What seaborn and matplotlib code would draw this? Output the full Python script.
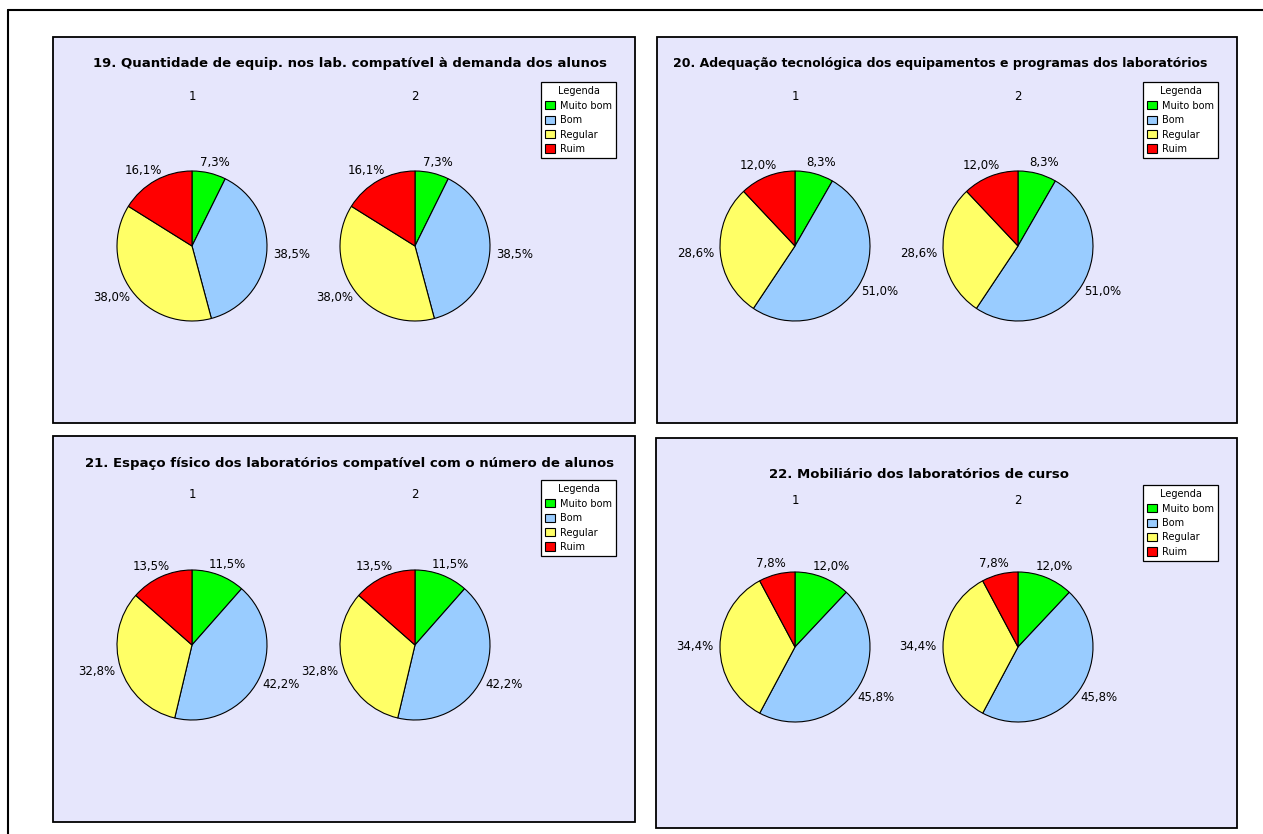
import numpy as np
import matplotlib
matplotlib.use("Agg")
import matplotlib.pyplot as plt
from matplotlib.patches import Rectangle, Patch
from matplotlib.lines import Line2D
import seaborn as sns

sns.set_style("white")
plt.rcParams['font.family'] = ['DejaVu Sans']
plt.rcParams['text.color'] = 'black'

categorias = ['Muito bom', 'Bom', 'Regular', 'Ruim']
cores = ['#00FF00', '#99CCFF', '#FFFF66', '#FF0000']
series = ['1', '2']

titulos = [
    '19. Quantidade de equip. nos lab. compatível à demanda dos alunos',
    '20. Adequação tecnológica dos equipamentos e programas dos laboratórios',
    '21. Espaço físico dos laboratórios compatível com o número de alunos',
    '22. Mobiliário dos laboratórios de curso',
]
q19 = [7.3, 38.5, 38.0, 16.1]
q20 = [8.3, 51.0, 28.6, 12.0]
q21 = [11.5, 42.2, 32.8, 13.5]
q22 = [12.0, 45.8, 34.4, 7.8]
valores = [q19, q20, q21, q22]

W, H = 1263, 834
fig = plt.figure(figsize=(W / 100, H / 100), dpi=100)
fig.patch.set_facecolor('white')


def fx(x):
    return x / W


def fy(y):
    return 1 - y / H


# outer frame (top and left lines)
fig.add_artist(Line2D([fx(8), fx(8)], [fy(9.5), 0], color='black', lw=1.5))
fig.add_artist(Line2D([fx(8), 1], [fy(9.5), fy(9.5)], color='black', lw=1.5))

# panel layout in pixels: box, title centre/y/size, series label y, pie y, legend top-left
paineis = [
    dict(box=(53, 37, 635, 423), tx=350, ty=64, ts=9.5, sy=97, py=246, pcx=(192, 415), leg=(541, 82)),
    dict(box=(657, 37, 1237, 423), tx=940, ty=64, ts=9.0, sy=97, py=246, pcx=(795, 1018), leg=(1143, 82)),
    dict(box=(53, 436, 635, 822), tx=350, ty=463, ts=9.5, sy=495, py=645, pcx=(192, 415), leg=(541, 480)),
    dict(box=(656, 438, 1237, 828), tx=919, ty=475, ts=9.5, sy=500, py=647, pcx=(795, 1018), leg=(1143, 485)),
]

R = 75  # pie radius in px
L = 1.25

for p, titulo, vals in zip(paineis, titulos, valores):
    x0, y0, x1, y1 = p['box']
    fig.add_artist(Rectangle((fx(x0), fy(y1)), fx(x1 - x0), (y1 - y0) / H,
                             facecolor='#E6E6FC', edgecolor='black', lw=1.3, zorder=0))
    fig.text(fx(p['tx']), fy(p['ty']), titulo, ha='center', va='center',
             fontsize=p['ts'], fontweight='bold', color='black')

    for s, cx in zip(series, p['pcx']):
        fig.text(fx(cx), fy(p['sy']), s, ha='center', va='center', fontsize=8.5, color='black')
        half = R * L
        ax = fig.add_axes([fx(cx - half), fy(p['py'] + half), 2 * half / W, 2 * half / H])
        wedges, _ = ax.pie(vals, colors=cores, startangle=90, counterclock=False,
                           wedgeprops=dict(edgecolor='black', linewidth=0.8))
        ax.set_xlim(-L, L)
        ax.set_ylim(-L, L)
        ax.set_facecolor('none')
        for w, v in zip(wedges, vals):
            ang = np.deg2rad((w.theta1 + w.theta2) / 2)
            c, sn = np.cos(ang), np.sin(ang)
            px = 1.06 * c + 0.27 * c
            py = 1.06 * sn + 0.09 * sn
            ax.text(px, py, f'{v:.1f}%'.replace('.', ','), ha='center', va='center',
                    fontsize=8.5, color='black', clip_on=False)

    handles = [Patch(facecolor=c, edgecolor='black', lw=0.8) for c in cores]
    lx, ly = p['leg']
    leg = fig.legend(handles, categorias, title='Legenda', loc='upper left',
                     bbox_to_anchor=(fx(lx), fy(ly)), fontsize=7, title_fontsize=7,
                     frameon=True, fancybox=False, edgecolor='black', framealpha=1,
                     handlelength=1.0, handleheight=0.9, handletextpad=0.5,
                     labelspacing=0.45, borderpad=0.45, borderaxespad=0)
    leg.get_frame().set_linewidth(0.9)
    for t in leg.get_texts():
        t.set_color('black')
    leg.get_title().set_color('black')

fig.savefig('out.png', dpi=100)
plt.close(fig)
